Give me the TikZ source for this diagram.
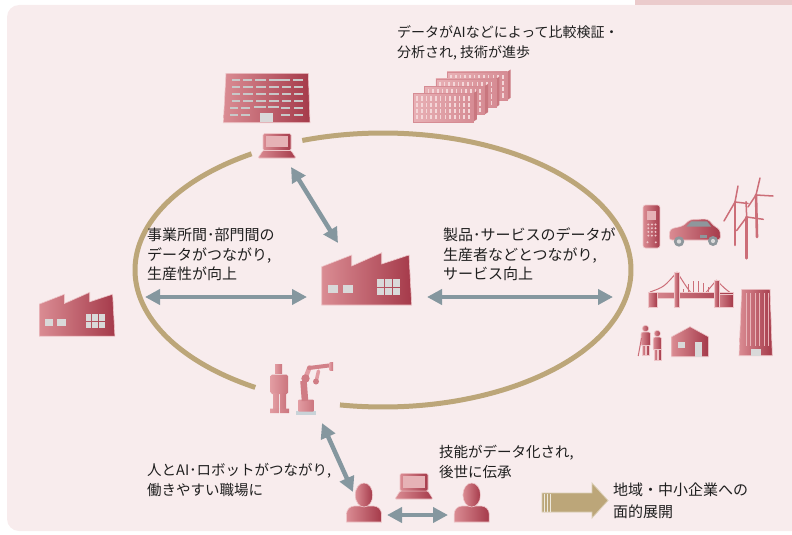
\documentclass[tikz,border=0pt]{standalone}
\usepackage{fontspec}
\newfontfamily\jp{Noto Sans CJK JP}
\usetikzlibrary{arrows.meta}

\definecolor{panel}{HTML}{F8ECED}
\definecolor{tab}{HTML}{EBCBCC}
\definecolor{ring}{HTML}{BCA679}
\definecolor{steel}{HTML}{85979F}
\definecolor{iconL}{HTML}{DA8C93}
\definecolor{iconR}{HTML}{A53A4A}
\definecolor{iconEdge}{HTML}{EEC6C9}
\definecolor{winGray}{HTML}{D9D9D9}
\definecolor{dashGray}{HTML}{C8C8C8}
\definecolor{screenPink}{HTML}{E6B2B6}
\definecolor{srvL}{HTML}{E8B0B5}
\definecolor{srvR}{HTML}{D68C94}
\definecolor{srvSide}{HTML}{C9777F}
\definecolor{srvWin}{HTML}{F4D6D8}
\definecolor{roboL}{HTML}{E29CA2}
\definecolor{roboR}{HTML}{CB757E}
\definecolor{turb}{HTML}{CC6E78}
\definecolor{carGray}{HTML}{8E979C}
\definecolor{baseBlue}{HTML}{C9D3D8}

\tikzset{
  icon/.style={left color=iconL, right color=iconR, draw=iconEdge, line width=0.6pt},
  robo/.style={left color=roboL, right color=roboR, draw=none},
  win/.style={fill=winGray, draw=none},
  floorbar/.style={fill=dashGray, draw=none},
  link/.style={draw=steel, line width=4.5pt,
    {Triangle[width=15pt,length=15pt]}-{Triangle[width=15pt,length=15pt]}},
  ringline/.style={draw=ring, line width=5pt},
  txt/.style={font=\jp\fontsize{15}{19.5}\selectfont, align=left,
    inner sep=0pt, anchor=north west, text=black!88},
}

% factory silhouette, local frame 90 x 52 (y grows downward)
\newcommand\factoryicon{%
  \path[icon] (0,14) -- (30,2.3) -- (30,13.3) -- (60,0) -- (60,11.3)
     -- (87.3,2.3) -- (90,52.3) -- (0,52.3) -- cycle;
  \fill[win] (6.3,32.3) rectangle (16,40.6);
  \fill[win] (21.3,32.3) rectangle (31.3,40.6);
  \foreach \c in {0,1,2}{\foreach \r in {0,1}{%
    \fill[win] ({55+\c*8},{26.3+\r*8.7}) rectangle ++(7,7.7);}}%
}
% laptop, local frame: screen 28 x 17, base below
\newcommand\laptopicon{%
  \path[icon, rounded corners=1.5pt] (0,0) rectangle (28,17);
  \fill[screenPink] (2.8,2.8) rectangle (25.2,13.6);
  \path[icon, rounded corners=1pt] (0,17) -- (28,17) -- (33,24.5) -- (-5,24.5) -- cycle;
}
% bust of a person, origin at top of head
\newcommand\personicon{%
  \path[icon] (-17.5,39) [rounded corners=8pt] -- (-17.5,23) -- (17.5,23)
     [sharp corners] -- (17.5,39) -- cycle;
  \path[icon] (0,12) ellipse [x radius=8.8, y radius=12];
}

\begin{document}
\begin{tikzpicture}[x=1pt,y=-1pt]
\useasboundingbox (0,0) rectangle (792,535);

% panel and tab
\begin{scope}
  \clip (0,0) rectangle (792,535);
  \fill[panel, rounded corners=12pt] (7,5) rectangle (815,531);
\end{scope}
\fill[tab] (635,0) rectangle (792,5);

% ring of the cycle
\draw[ringline] plot[domain=122:239, samples=120] ({383+248*cos(\x)},{270-137*sin(\x)});
\draw[ringline] plot[domain=260:469, samples=200] ({383+248*cos(\x)},{270-137*sin(\x)});

% office building
\path[icon] (226,73.3) -- (308.3,73.3) -- (310,122.7) -- (223.3,122.7) -- cycle;
\foreach \a/\b in {232/240,243/252,255/266,269/290,293/303}
  \fill[floorbar] (\a,79) rectangle (\b,81.4);
\foreach \y in {86,93,100}{\foreach \a/\b in {232/240,243/253,256/266,269/279,282/291,294/303}{%
  \fill[floorbar] (\a,\y) rectangle (\b,\y+2.4);}}
\foreach \a/\b/\y in {230/238/107,241/250/107,254/266/106,268/279/106,281/290/107,294/303/107}
  \fill[floorbar] (\a,\y) rectangle (\b,\y+2.4);
\foreach \a/\b in {230/238,241/250,281/290,294/303}
  \fill[floorbar] (\a,114) rectangle (\b,116.4);
\fill[win] (260,113.3) rectangle (272.7,121.7);

% laptop at the office
\begin{scope}[shift={(263,133.5)}] \laptopicon \end{scope}

% server blocks
\foreach \bx/\by in {447.2/71.7,435.9/78.9,424.6/86.1,413.3/93.3}{%
  \fill[srvSide] (\bx+60,\by) -- (\bx+63.5,\by-2.2) -- (\bx+63.5,\by+26) -- (\bx+60,\by+28.4) -- cycle;
  \path[left color=srvL, right color=srvR, draw=srvR, line width=0.4pt]
     (\bx,\by) rectangle (\bx+60,\by+28.4);
  \foreach \c in {0,...,11}{\foreach \r in {0,...,3}{%
    \fill[srvWin] ({\bx+3+\c*4.7},{\by+3+\r*6.2}) rectangle ++(1.6,4.2);}}
}
\node[txt, font=\jp\fontsize{14}{20}\selectfont] (analysis) at (397,25)
  {データがAIなどによって比較検証・\\分析され, 技術が進歩};

% factories
\begin{scope}[shift={(321.7,252.7)}] \factoryicon \end{scope}
\begin{scope}[shift={(39.3,292.3)}, scale=0.84] \factoryicon \end{scope}

% right cluster: phone
\path[icon, rounded corners=2.5pt] (643,205) rectangle (660,248);
\fill[screenPink] (646.7,211) rectangle (656.3,220);
\foreach \i in {0,1,2}{\foreach \j in {0,...,3}{%
  \fill[iconEdge] ({648.3+\i*3.6},{224.5+\j*3.7}) circle (1.1);}}
\fill[iconEdge] (647.5,242.3) circle (1.1) (655.8,242.3) circle (1.1);

% car
\path[icon, rounded corners=3pt] (669,240) -- (670,229) -- (683,226) -- (690,219.5)
  -- (708,219) -- (714,226) -- (720,229.5) -- (720.5,240) -- cycle;
\fill[carGray] (686.5,226.5) -- (691.3,221.5) -- (707,221.3) -- (711,226.5) -- cycle;
\fill[carGray] (700,234.5) rectangle (707,237.5);
\fill[carGray] (679,241.5) circle (5.2) (713,241) circle (5);
\fill[winGray] (679,241.5) circle (2.2) (713,241) circle (2.1);

% wind turbines
\begin{scope}[draw=turb, line cap=round]
  \draw[line width=2.6pt] (735,202) -- (735,245);
  \draw[line width=1.5pt] (735,202) -- (738,186) (735,202) -- (724,221) (735,202) -- (748,203.5);
  \draw[line width=2.6pt] (756,195) -- (757,237);
  \draw[line width=1.5pt] (756,195) -- (760,178) (756,195) -- (773,196) (756,195) -- (748,207);
  \draw[line width=2.6pt] (746.7,217) -- (746.7,258.3);
  \draw[line width=1.5pt] (746.7,217) -- (746,201.7) (746.7,217) -- (763.3,219.3) (746.7,217) -- (736.7,230.5);
\end{scope}

% bridge
\begin{scope}[draw=turb, line width=1pt]
  \draw (650,292) .. controls (664,287) .. (677,272);
  \draw (677,272) .. controls (697,304) .. (716.5,280);
  \draw (716.5,280) .. controls (724,288) .. (732,294);
  \foreach \x in {683,688,693,698,703,708,712}
    \draw[line width=0.5pt] (\x,{292}) -- (\x,{281+0.045*(\x-696)*(\x-696)});
\end{scope}
\path[icon] (648,292) rectangle (733,298.5);
\path[icon] (648,292) rectangle (657,307);
\path[icon] (716,294) -- (733,294) -- (733,307) -- (716,307) -- cycle;
\path[icon] (674.5,272) rectangle (679.5,307);
\path[icon] (714,280) rectangle (719,307);

% tall building
\path[icon] (741.7,289.3) -- (770,289.3) -- (772.3,355.7) -- (739,355.7) -- cycle;
\foreach \x in {746,750.5,755,759.5,764,768}
  \draw[iconEdge!70!iconL, line width=0.6pt] (\x,293) -- (\x,346);
\fill[win] (751,349) rectangle (760.7,355.7);

% house
\path[icon] (671.7,356.7) -- (671.7,336.7) -- (690,326.7) -- (708.3,336.7) -- (708.3,356.7) -- cycle;
\fill[win] (678,341.7) rectangle (685,348.3);
\fill[win] (695,341.7) rectangle (701.7,356.7);

% two walking people
\path[icon] (645.5,328.5) circle (3.2);
\path[icon, rounded corners=2pt] (641,332) rectangle (650.5,346);
\path[icon] (642,345) rectangle (645,355.5) (646.3,345) rectangle (649.3,355.5);
\draw[turb, line width=1pt] (641.5,338) -- (638.2,356);
\path[icon] (657.3,333.5) circle (3.2);
\path[icon, rounded corners=2pt] (653.2,337) rectangle (661.5,350.5);
\path[icon] (654,349.5) rectangle (657,360) (657.8,349.5) rectangle (660.8,360);

% humanoid and industrial robot
\path[robo] (275,364) rectangle (282,373);
\path[robo, rounded corners=1.5pt] (270.7,374.5) rectangle (288,394);
\path[robo] (273,393) rectangle (279,409) (280,393) rectangle (286,409);
\path[robo] (270,408.5) rectangle (279,413) (280,408.5) rectangle (289,413);
\fill[baseBlue] (296,411) rectangle (316,414.5);
\path[robo, rounded corners=1pt] (298,399.5) rectangle (314,411.5);
\draw[roboR!80!roboL, line width=6.5pt] (305,401) -- (303.5,381);
\draw[roboL, line width=4.5pt, line cap=round] (305,379) -- (309.5,367.5);
\draw[roboL, line width=3.5pt, line cap=round] (316,382) -- (318.5,371);
\draw[roboR!70!roboL, line width=4pt, line cap=round] (309,368) -- (329,365.5);
\fill[roboR!80!roboL] (305.5,378.5) circle (4.2) (316,381.5) circle (3);
\path[robo] (329.5,362) rectangle (333,370);

% text blocks
\node[txt] (office) at (147,228) {事業所間･部門間の\\データがつながり,\\生産性が向上};
\node[txt] (service) at (443,228) {製品･サービスのデータが\\生産者などとつながり,\\サービス向上};
\node[txt, font=\jp\fontsize{14.5}{20}\selectfont] (workplace) at (147,463)
  {人とAI･ロボットがつながり,\\働きやすい職場に};
\node[txt, font=\jp\fontsize{14.5}{20}\selectfont] (skill) at (439,445)
  {技能がデータ化され,\\後世に伝承};
\node[txt, font=\jp\fontsize{15}{22}\selectfont] (region) at (613,483)
  {地域・中小企業への\\面的展開};

% people and laptop at the bottom
\begin{scope}[shift={(364,483)}] \personicon \end{scope}
\begin{scope}[shift={(471.7,483)}] \personicon \end{scope}
\begin{scope}[shift={(400,473.3)}, yscale=1.05] \laptopicon \end{scope}

% block arrow towards the regions
\path[fill=ring, draw=ring!55!white, line width=0.8pt]
  (542,493) -- (592,493) -- (592,483) -- (608,500.5) -- (592,518) -- (592,512) -- (542,512) -- cycle;
\foreach \x in {544.5,547.5,550.5}
  \draw[ring!25!white, line width=0.9pt] (\x,493.5) -- (\x,511.5);

% connectors
\coordinate (laptopEnd) at (291,167);
\coordinate (plantTop) at (338,243);
\coordinate (officeEnd) at (145,297);
\coordinate (plantLeft) at (307,297);
\coordinate (plantRight) at (427,297);
\coordinate (marketEnd) at (613,297);
\coordinate (robotEnd) at (322,423);
\coordinate (workerTop) at (353,492);
\coordinate (workerRight) at (387,515);
\coordinate (heirLeft) at (448,515);
\draw[link] (laptopEnd) -- (plantTop);
\draw[link] (officeEnd) -- (plantLeft);
\draw[link] (plantRight) -- (marketEnd);
\draw[link] (robotEnd) -- (workerTop);
\draw[link] (workerRight) -- (heirLeft);
\end{tikzpicture}
\end{document}
